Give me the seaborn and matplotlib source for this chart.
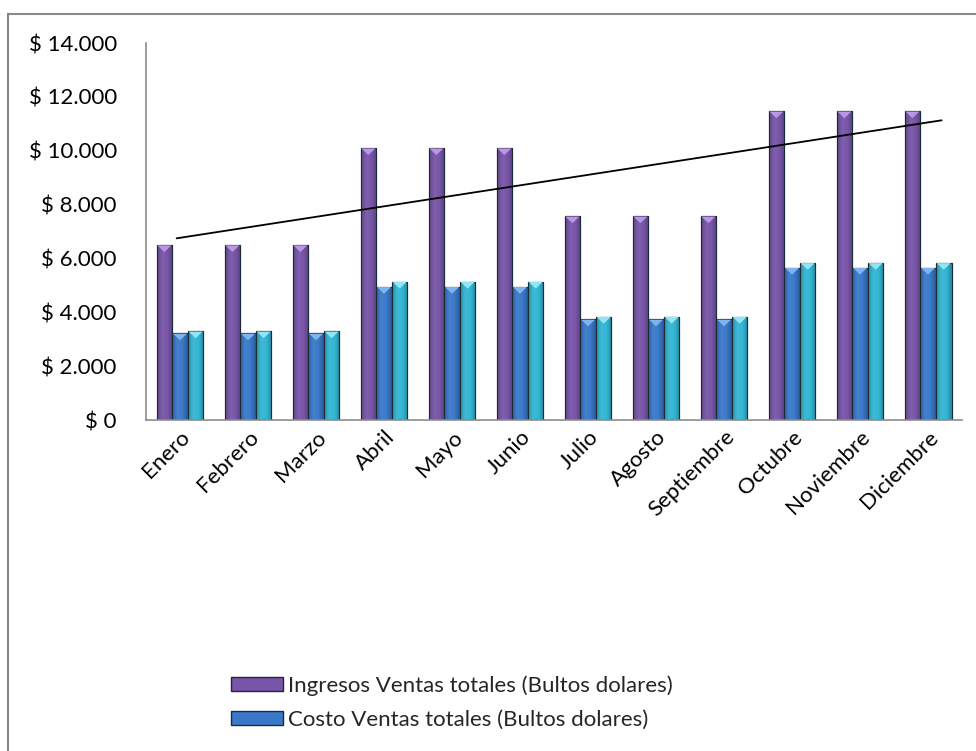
import numpy as np
import pandas as pd
import matplotlib
matplotlib.use("Agg")
import matplotlib.pyplot as plt
import matplotlib.patches as mpatches
from matplotlib.colors import LinearSegmentedColormap, to_rgb
import seaborn as sns

# Monthly sales data (USD)
meses = ["Enero", "Febrero", "Marzo", "Abril", "Mayo", "Junio",
         "Julio", "Agosto", "Septiembre", "Octubre", "Noviembre", "Diciembre"]
ingresos = [6500, 6500, 6500, 10100, 10100, 10100,
            7570, 7570, 7570, 11470, 11470, 11470]
costo = [3220, 3220, 3220, 4950, 4950, 4950,
         3740, 3740, 3740, 5660, 5660, 5660]
gastos = [3300, 3300, 3300, 5140, 5140, 5140,
          3840, 3840, 3840, 5840, 5840, 5840]

serie_ingresos = "Ingresos Ventas totales (Bultos dolares)"
serie_costo = "Costo Ventas totales (Bultos dolares)"
serie_gastos = "Gastos Ventas totales (Bultos dolares)"
y_ticks = [0, 2000, 4000, 6000, 8000, 10000, 12000, 14000]

colores = {
    serie_ingresos: "#7755A8",
    serie_costo: "#3A79CA",
    serie_gastos: "#33B6D4",
}
caps = {
    serie_ingresos: "#B996E8",
    serie_costo: "#7FB4F0",
    serie_gastos: "#8EE6F6",
}

df = pd.DataFrame({
    "Mes": meses * 3,
    "Valor": ingresos + costo + gastos,
    "Serie": [serie_ingresos] * 12 + [serie_costo] * 12 + [serie_gastos] * 12,
})

sns.set_theme(style="white")
plt.rcParams["font.family"] = ["Lato", "DejaVu Sans"]
FS = 16

fig = plt.figure(figsize=(9.76, 7.51), dpi=100)
ax = fig.add_axes([0.1496, 0.4407, 0.8361, 0.502])

orden = [serie_ingresos, serie_costo, serie_gastos]
sns.barplot(data=df, x="Mes", y="Valor", hue="Serie", order=meses,
            hue_order=orden, palette=colores, width=0.69, gap=0, errorbar=None,
            edgecolor="#1c2a33", linewidth=0.8, ax=ax, legend=False)


def shade(c, f):
    r = np.array(to_rgb(c))
    if f < 0:
        return tuple(r * (1 + f))
    return tuple(r + (1 - r) * f)


# Cylinder-like shading and a bevel cap on each bar
bar_patches = [p for p in ax.patches if p.get_height() > 0]
for i, patch in enumerate(bar_patches):
    serie = orden[i // len(meses)]
    x0, y0 = patch.get_x(), patch.get_y()
    w, h = patch.get_width(), patch.get_height()
    base = colores[serie]
    cmap = LinearSegmentedColormap.from_list(
        "cyl", [shade(base, -0.2), shade(base, 0.06), shade(base, 0.0), shade(base, -0.25)])
    grad = np.linspace(0, 1, 64).reshape(1, -1)
    im = ax.imshow(grad, cmap=cmap, aspect="auto", extent=[x0, x0 + w, y0, y0 + h],
                   zorder=patch.get_zorder() + 0.1, interpolation="bicubic")
    im.set_clip_path(patch)
    outline = mpatches.Rectangle((x0, y0), w, h, fill=False, edgecolor="#1c2a33",
                                 linewidth=0.8, zorder=patch.get_zorder() + 0.2)
    ax.add_patch(outline)
    tri = mpatches.Polygon([[x0 + w * 0.05, y0 + h - 12], [x0 + w * 0.95, y0 + h - 12],
                            [x0 + w / 2, y0 + h - 260]],
                           closed=True, facecolor=caps[serie], edgecolor="none",
                           zorder=patch.get_zorder() + 0.3)
    ax.add_patch(tri)

# Linear trend of income
xs = np.arange(len(meses))
coef = np.polyfit(xs, ingresos, 1)
ax.plot([xs[0] - 0.05, xs[-1] + 0.2], np.polyval(coef, [xs[0] - 0.05, xs[-1] + 0.2]),
        color="black", linewidth=1.3, zorder=10)

ax.set_ylim(0, 14000)
ax.set_xlim(-0.5, len(meses) - 0.5)
ax.set_yticks(y_ticks)
ax.set_yticklabels([("$ " + f"{v:,}".replace(",", ".")) for v in y_ticks], fontsize=FS)
ax.set_xticks(xs)
ax.set_xticklabels(meses, rotation=45, ha="right", rotation_mode="anchor", fontsize=FS)
ax.set_xlabel("")
ax.set_ylabel("")

for side in ["top", "right"]:
    ax.spines[side].set_visible(False)
for side in ["left", "bottom"]:
    ax.spines[side].set_color("#8c8c8c")
    ax.spines[side].set_linewidth(1.2)

# Category boundary ticks on the x axis
ax.set_xticks(np.arange(-0.5, len(meses), 1.0), minor=True)
ax.tick_params(axis="x", which="major", length=0, pad=5)
ax.tick_params(axis="x", which="minor", length=6, color="#8c8c8c", width=1.2, direction="out")
ax.tick_params(axis="y", length=6, color="#8c8c8c", width=1.2, direction="out", pad=15)
ax.tick_params(colors="black", labelcolor="black")

# Legend with wide swatches
handles = [mpatches.Patch(facecolor=colores[serie_ingresos], edgecolor="#2a2040", label=serie_ingresos),
           mpatches.Patch(facecolor=colores[serie_costo], edgecolor="#1c2a40", label=serie_costo)]
fig.legend(handles=handles, loc="center left", bbox_to_anchor=(0.2367, 0.0645),
           frameon=False, fontsize=FS, handlelength=2.35, handleheight=0.55,
           handletextpad=0.2, labelspacing=0.62, borderaxespad=0, borderpad=0)

# Outer chart frame
fig.patches.append(mpatches.Rectangle((8 / 976, -0.1), 1.2, 1 - 13.5 / 751 + 0.1,
                                      transform=fig.transFigure, fill=False,
                                      edgecolor="#888888", linewidth=1.5))

fig.savefig("out.png", dpi=100)
